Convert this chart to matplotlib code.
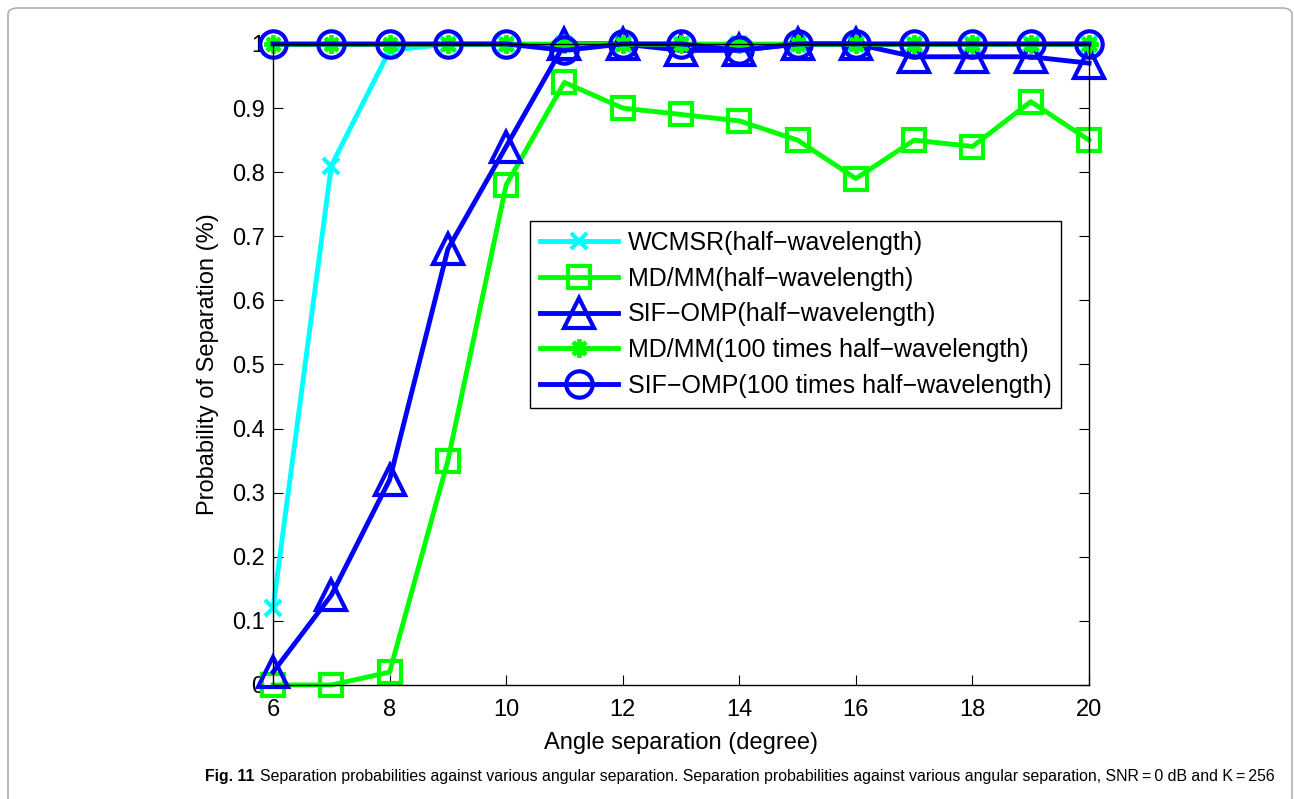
import matplotlib.pyplot as plt
from matplotlib.patches import FancyBboxPatch

angles = [6, 7, 8, 9, 10, 11, 12, 13, 14, 15, 16, 17, 18, 19, 20]

wcmsr_half = [0.12, 0.81, 0.99, 1.0, 1.0, 1.0, 1.0, 1.0, 1.0, 1.0, 1.0, 1.0, 1.0, 1.0, 1.0]
mdmm_half = [0.0, 0.0, 0.02, 0.35, 0.78, 0.94, 0.90, 0.89, 0.88, 0.85, 0.79, 0.85, 0.84, 0.91, 0.85]
sif_half = [0.02, 0.14, 0.32, 0.68, 0.84, 1.0, 1.0, 0.99, 0.99, 1.0, 1.0, 0.98, 0.98, 0.98, 0.97]
mdmm_100 = [1.0, 1.0, 1.0, 1.0, 1.0, 1.0, 1.0, 1.0, 1.0, 1.0, 1.0, 1.0, 1.0, 1.0, 1.0]
sif_100 = [1.0, 1.0, 1.0, 1.0, 1.0, 0.99, 1.0, 1.0, 0.99, 1.0, 1.0, 1.0, 1.0, 1.0, 1.0]

labels = ["WCMSR(half\u2212wavelength)",
          "MD/MM(half\u2212wavelength)",
          "SIF\u2212OMP(half\u2212wavelength)",
          "MD/MM(100 times half\u2212wavelength)",
          "SIF\u2212OMP(100 times half\u2212wavelength)"]

caption_bold = "Fig. 11"
caption_text = ("Separation probabilities against various angular separation. "
                "Separation probabilities against various angular separation, "
                "SNR\u2009=\u20090 dB and K\u2009=\u2009256")

plt.rcParams['font.family'] = ['Liberation Sans', 'DejaVu Sans']

fig = plt.figure(figsize=(12.94, 7.99), dpi=100)
ax = fig.add_axes([0.211, 0.1427, 0.6306, 0.8023])

lw = 3.5
mew = 3.0
ax.plot(angles, wcmsr_half, color=(0, 1, 1), lw=lw, marker='x', ms=12, mew=mew,
        clip_on=False, label=labels[0])
ax.plot(angles, mdmm_half, color=(0, 1, 0), lw=lw, marker='s', ms=16, mew=mew, mfc='none',
        clip_on=False, label=labels[1])
ax.plot(angles, sif_half, color=(0, 0, 1), lw=lw, marker='^', ms=21, mew=mew, mfc='none',
        clip_on=False, label=labels[2])
ax.plot(angles, mdmm_100, color=(0, 1, 0), lw=lw, marker=(8, 2, 0), ms=13, mew=mew,
        clip_on=False, label=labels[3])
ax.plot(angles, sif_100, color=(0, 0, 1), lw=lw, marker='o', ms=19, mew=mew, mfc='none',
        clip_on=False, label=labels[4])

ax.set_xlim(6, 20)
ax.set_ylim(0, 1)
ax.set_xticks([6, 8, 10, 12, 14, 16, 18, 20])
ax.set_yticks([0, 0.1, 0.2, 0.3, 0.4, 0.5, 0.6, 0.7, 0.8, 0.9, 1])
ax.set_yticklabels(['0', '0.1', '0.2', '0.3', '0.4', '0.5', '0.6', '0.7', '0.8', '0.9', '1'])
ax.tick_params(direction='in', length=7, labelsize=17, top=False, right=True)
ax.tick_params(axis='x', pad=10)
ax.tick_params(axis='y', pad=6)
for s in ax.spines.values():
    s.set_linewidth(1.0)
ax.set_xlabel('Angle separation (degree)', fontsize=17, labelpad=8)
ax.set_ylabel('Probability of Separation (%)', fontsize=17, labelpad=9)

leg = ax.legend(loc='upper left', bbox_to_anchor=(0.315, 0.724), borderaxespad=0,
                fontsize=18, fancybox=False, edgecolor='black', framealpha=1,
                handlelength=3.1, handletextpad=0.4, labelspacing=0.47, borderpad=0.4)
leg.get_frame().set_linewidth(1.0)

# outer frame of the figure panel
frame = FancyBboxPatch((8 / 1294, -0.05), 1284 / 1294, 1.05 - 8 / 799,
                       boxstyle='round,pad=0,rounding_size=0.008',
                       transform=fig.transFigure, fill=False, edgecolor='#b0b0b0', lw=1.2)
fig.patches.append(frame)

cap_font = ['Liberation Sans Narrow', 'Liberation Sans', 'DejaVu Sans']
t1 = fig.text(205 / 1294, 0.022, caption_bold, fontsize=13, fontweight='bold',
              family=cap_font, va='baseline')
t2 = fig.text(0, 0.022, caption_text, fontsize=13, family=cap_font, va='baseline')

# fit caption into the width used by the reference (x 205..1278 px)
fig.canvas.draw()
r = fig.canvas.get_renderer()
for _ in range(3):
    w1 = t1.get_window_extent(r).width
    w2 = t2.get_window_extent(r).width
    scale = (1278 - 205 - 6) / (w1 + w2)
    t1.set_fontsize(t1.get_fontsize() * scale)
    t2.set_fontsize(t2.get_fontsize() * scale)
    fig.canvas.draw()
w1 = t1.get_window_extent(r).width
t2.set_x((205 + w1 + 6) / 1294)

fig.savefig('out.png', dpi=100)
